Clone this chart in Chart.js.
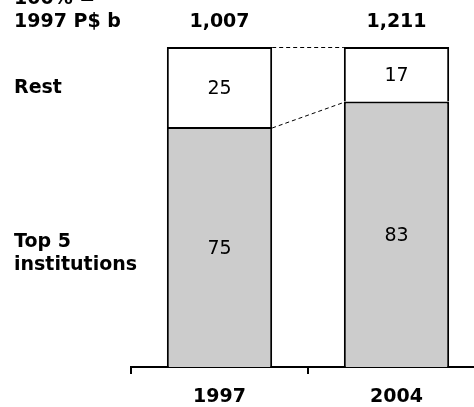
<!DOCTYPE html>
<html>
<head>
<meta charset="utf-8">
<script src="https://cdn.jsdelivr.net/npm/chart.js@4/dist/chart.umd.min.js"></script>
<style>
  html, body { margin: 0; padding: 0; background: #fff; overflow: hidden; }
  #wrap { width: 474px; height: 407px; overflow: hidden; position: relative; }
  canvas { display: block; }
</style>
</head>
<body>
<div id="wrap"><canvas id="c" width="500" height="407"></canvas></div>
<script>
// Market share of the largest institutions, in percent of the total
const years = ['1997', '2004'];
const top5Share = [75, 83];
const restShare = [25, 17];
const totals = ['1,007', '1,211'];
const seriesNames = [['Top 5', 'institutions'], ['Rest']];
const unitLines = ['100% =', '1997 P$ b'];

const FONT = '"DejaVu Sans", Verdana, sans-serif';
const INK = '#000000';

// Labels, totals, value texts and dashed connectors drawn on top of the bars
const annotate = {
  id: 'annotate',
  afterDatasetsDraw(chart) {
    const ctx = chart.ctx;
    const area = chart.chartArea;
    const top5Bars = chart.getDatasetMeta(0).data;
    const restBars = chart.getDatasetMeta(1).data;
    ctx.save();

    // value labels inside each segment
    ctx.fillStyle = INK;
    ctx.textAlign = 'center';
    ctx.textBaseline = 'middle';
    ctx.font = '19px ' + FONT;
    top5Bars.forEach((b, i) => {
      ctx.fillText(String(top5Share[i]), b.x, (b.y + b.base) / 2 + 2);
    });
    restBars.forEach((b, i) => {
      ctx.fillText(String(restShare[i]), b.x, (b.y + b.base) / 2 + 2);
    });

    // totals above the bars
    ctx.font = 'bold 19px ' + FONT;
    restBars.forEach((b, i) => {
      ctx.fillText(totals[i], b.x, area.top - 25);
    });

    // left-hand labels
    ctx.textAlign = 'left';
    ctx.fillText(unitLines[0], 14, area.top - 48);
    ctx.fillText(unitLines[1], 14, area.top - 25);
    const r0 = restBars[0];
    ctx.fillText(seriesNames[1][0], 14, (r0.y + r0.base) / 2 + 1.5);
    const t0 = top5Bars[0];
    const mid = (t0.y + t0.base) / 2 + 7;
    ctx.fillText(seriesNames[0][0], 14, mid - 11.5);
    ctx.fillText(seriesNames[0][1], 14, mid + 11.5);

    // dashed connectors between the bars
    ctx.strokeStyle = INK;
    ctx.lineWidth = 1;
    ctx.setLineDash([4, 3]);
    const a = restBars[0], b = restBars[1];
    const ta = top5Bars[0], tb = top5Bars[1];
    ctx.beginPath();
    ctx.moveTo(a.x + a.width / 2, Math.round(a.y) + 0.5);
    ctx.lineTo(b.x - b.width / 2, Math.round(b.y) + 0.5);
    ctx.moveTo(ta.x + ta.width / 2, ta.y + 1);
    ctx.lineTo(tb.x - tb.width / 2, tb.y + 1);
    ctx.stroke();
    ctx.restore();
  }
};

new Chart(document.getElementById('c'), {
  type: 'bar',
  data: {
    labels: years,
    datasets: [
      {
        label: seriesNames[0].join(' '),
        data: top5Share,
        backgroundColor: '#cccccc',
        borderColor: INK,
        borderWidth: 2,
        inflateAmount: 0,
        barPercentage: 0.595,
        categoryPercentage: 1
      },
      {
        label: seriesNames[1][0],
        data: restShare,
        backgroundColor: '#ffffff',
        borderColor: INK,
        borderWidth: 2,
        inflateAmount: 0,
        barPercentage: 0.595,
        categoryPercentage: 1
      }
    ]
  },
  options: {
    responsive: false,
    animation: false,
    layout: { padding: { left: 131, right: 15, top: 47, bottom: 0 } },
    plugins: { legend: { display: false }, tooltip: { enabled: false } },
    scales: {
      x: {
        stacked: true,
        afterFit(scale) { scale.height = 40; },
        grid: {
          drawOnChartArea: false,
          drawTicks: true,
          tickLength: 7,
          color: INK,
          lineWidth: 2
        },
        border: { display: true, color: INK, width: 2 },
        ticks: {
          color: INK,
          padding: 12,
          font: { family: FONT, size: 19, weight: 'bold' }
        }
      },
      y: {
        stacked: true,
        display: false,
        min: 0,
        max: 100
      }
    }
  },
  plugins: [annotate]
});
</script>
</body>
</html>
